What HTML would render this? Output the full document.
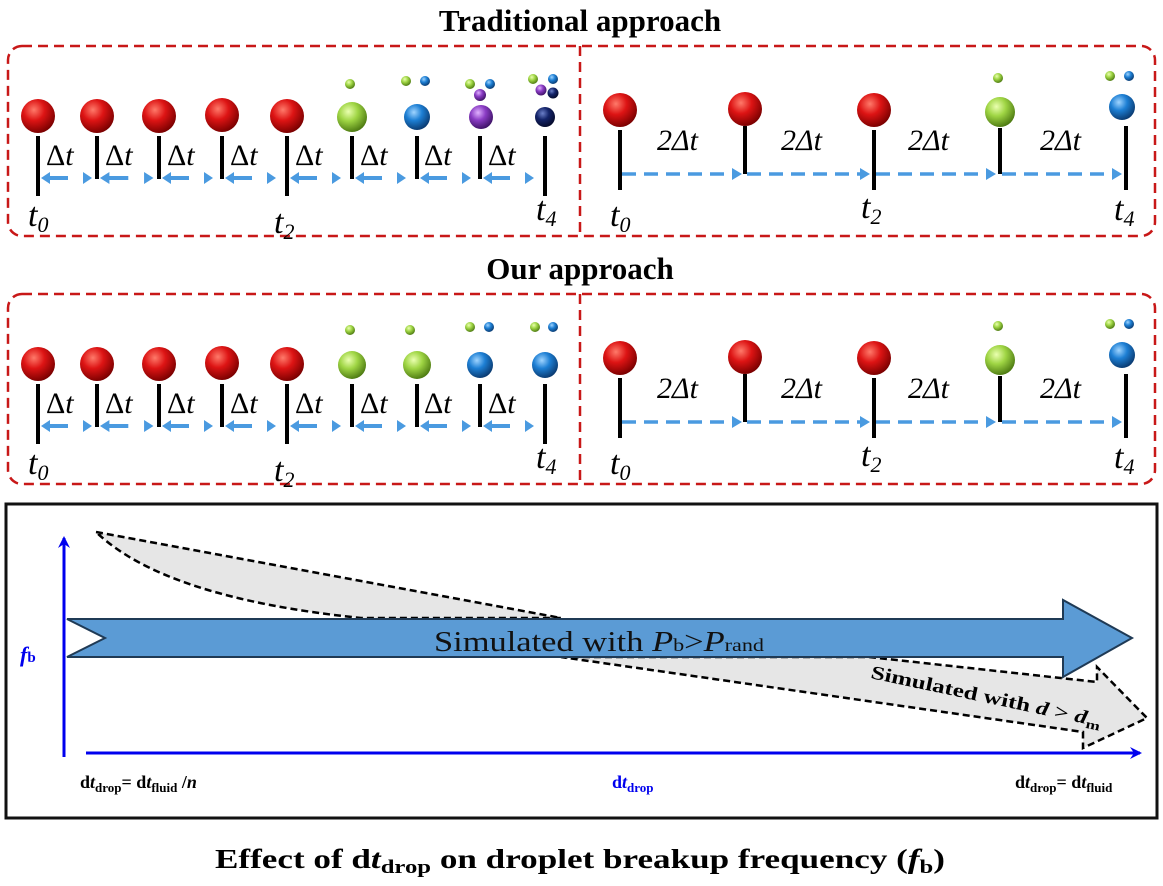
<!DOCTYPE html>
<html><head><meta charset="utf-8"><style>
html,body{margin:0;padding:0;background:#fff;}
svg{display:block;font-family:"Liberation Serif",serif;}
</style></head><body>
<svg width="1163" height="886" viewBox="0 0 1163 886" xmlns="http://www.w3.org/2000/svg">
<defs>
<radialGradient id="gr" cx="0.38" cy="0.32" r="0.7"><stop offset="0" stop-color="#ff7a6a"/><stop offset="0.45" stop-color="#dd1414"/><stop offset="1" stop-color="#7a0000"/></radialGradient>
<radialGradient id="gg" cx="0.38" cy="0.32" r="0.7"><stop offset="0" stop-color="#eaffb0"/><stop offset="0.45" stop-color="#9fd544"/><stop offset="1" stop-color="#4d7a12"/></radialGradient>
<radialGradient id="gb" cx="0.38" cy="0.32" r="0.7"><stop offset="0" stop-color="#9fd4ff"/><stop offset="0.45" stop-color="#1d7fd4"/><stop offset="1" stop-color="#0a3a70"/></radialGradient>
<radialGradient id="gp" cx="0.38" cy="0.32" r="0.7"><stop offset="0" stop-color="#e0b0ff"/><stop offset="0.45" stop-color="#8a3cc4"/><stop offset="1" stop-color="#3e1266"/></radialGradient>
<radialGradient id="gn" cx="0.38" cy="0.32" r="0.7"><stop offset="0" stop-color="#6b7fc8"/><stop offset="0.45" stop-color="#14246a"/><stop offset="1" stop-color="#050a2a"/></radialGradient>
<marker id="ahb" markerWidth="12" markerHeight="12" refX="10" refY="6" orient="auto" markerUnits="userSpaceOnUse"><path d="M0,0 L12,6 L0,12 L4,6 z" fill="#0000ee"/></marker>
<g id="dta">
<path d="M41,178 L50,172 L50,184 Z" fill="#4a9ae0"/>
<line x1="49" y1="178" x2="68" y2="178" stroke="#4a9ae0" stroke-width="4"/>
<path d="M83,172 L92,178 L83,184 Z" fill="#4a9ae0"/>
</g>
</defs>

<text x="580" y="31" text-anchor="middle" font-size="31" font-weight="bold">Traditional approach</text>
<text x="580" y="279" text-anchor="middle" font-size="31" font-weight="bold">Our approach</text>

<g fill="none" stroke="#c81818" stroke-width="2.5" stroke-dasharray="10,6">
<rect x="8" y="46" width="1147" height="190" rx="14"/>
<line x1="580" y1="46" x2="580" y2="236"/>
<rect x="8" y="294" width="1147" height="190" rx="14"/>
<line x1="580" y1="294" x2="580" y2="484"/>
</g>

<g id="tl">
<g stroke="#000" stroke-width="4">
<line x1="38" y1="136" x2="38" y2="196"/>
<line x1="97" y1="136" x2="97" y2="179"/>
<line x1="159" y1="136" x2="159" y2="179"/>
<line x1="222" y1="136" x2="222" y2="179"/>
<line x1="287" y1="136" x2="287" y2="196"/>
<line x1="352" y1="136" x2="352" y2="179"/>
<line x1="417" y1="136" x2="417" y2="179"/>
<line x1="480" y1="136" x2="480" y2="179"/>
<line x1="545" y1="136" x2="545" y2="196"/>
</g>
<use href="#dta"/>
<use href="#dta" transform="translate(59,0) scale(1.05,1) translate(-2,0)"/>
<use href="#dta" x="121"/>
<use href="#dta" x="184"/>
<use href="#dta" x="249"/>
<use href="#dta" x="314"/>
<use href="#dta" x="379"/>
<use href="#dta" x="442"/>
<g font-size="30"><text x="46" y="165">Δ<tspan font-style="italic">t</tspan></text><text x="105" y="165">Δ<tspan font-style="italic">t</tspan></text><text x="167" y="165">Δ<tspan font-style="italic">t</tspan></text><text x="230" y="165">Δ<tspan font-style="italic">t</tspan></text><text x="295" y="165">Δ<tspan font-style="italic">t</tspan></text><text x="360" y="165">Δ<tspan font-style="italic">t</tspan></text><text x="424" y="165">Δ<tspan font-style="italic">t</tspan></text><text x="488" y="165">Δ<tspan font-style="italic">t</tspan></text></g>
<g font-size="34" font-style="italic"><text x="28" y="226">t<tspan font-size="22" dy="6">0</tspan></text><text x="274" y="233">t<tspan font-size="22" dy="6">2</tspan></text><text x="536" y="220">t<tspan font-size="22" dy="6">4</tspan></text></g>
</g>
<g>
<circle cx="38" cy="116" r="17" fill="url(#gr)"/><circle cx="97" cy="116" r="17" fill="url(#gr)"/><circle cx="159" cy="116" r="17" fill="url(#gr)"/><circle cx="222" cy="115" r="17" fill="url(#gr)"/><circle cx="287" cy="116" r="17" fill="url(#gr)"/>
<circle cx="352" cy="117" r="15" fill="url(#gg)"/><circle cx="350" cy="84" r="5" fill="url(#gg)"/>
<circle cx="417" cy="117" r="13" fill="url(#gb)"/><circle cx="406" cy="81" r="5" fill="url(#gg)"/><circle cx="425" cy="81" r="5" fill="url(#gb)"/>
<circle cx="481" cy="117" r="12" fill="url(#gp)"/><circle cx="470" cy="84" r="5" fill="url(#gg)"/><circle cx="490" cy="84" r="5" fill="url(#gb)"/><circle cx="480" cy="95" r="6" fill="url(#gp)"/>
<circle cx="545" cy="117" r="10" fill="url(#gn)"/><circle cx="533" cy="79" r="5" fill="url(#gg)"/><circle cx="553" cy="79" r="5" fill="url(#gb)"/><circle cx="541" cy="90" r="5.5" fill="url(#gp)"/><circle cx="553" cy="93" r="5.5" fill="url(#gn)"/>
</g>

<use href="#tl" y="248"/>
<g>
<circle cx="38" cy="364" r="17" fill="url(#gr)"/><circle cx="97" cy="364" r="17" fill="url(#gr)"/><circle cx="159" cy="364" r="17" fill="url(#gr)"/><circle cx="222" cy="363" r="17" fill="url(#gr)"/><circle cx="287" cy="364" r="17" fill="url(#gr)"/>
<circle cx="352" cy="365" r="14" fill="url(#gg)"/><circle cx="350" cy="330" r="5" fill="url(#gg)"/>
<circle cx="417" cy="365" r="14" fill="url(#gg)"/><circle cx="410" cy="330" r="5" fill="url(#gg)"/>
<circle cx="480" cy="365" r="13" fill="url(#gb)"/><circle cx="470" cy="327" r="5" fill="url(#gg)"/><circle cx="489" cy="327" r="5" fill="url(#gb)"/>
<circle cx="545" cy="365" r="13" fill="url(#gb)"/><circle cx="535" cy="327" r="5" fill="url(#gg)"/><circle cx="553" cy="327" r="5" fill="url(#gb)"/>
</g>

<g id="tr">
<g stroke="#000" stroke-width="4">
<line x1="620" y1="130" x2="620" y2="190"/>
<line x1="745" y1="126" x2="745" y2="174"/>
<line x1="874" y1="130" x2="874" y2="190"/>
<line x1="1000" y1="128" x2="1000" y2="174"/>
<line x1="1126" y1="126" x2="1126" y2="190"/>
</g>
<g stroke="#4a9ae0" stroke-width="3.5" stroke-dasharray="14,8" fill="none">
<line x1="622" y1="174" x2="732" y2="174"/>
<line x1="747" y1="174" x2="860" y2="174"/>
<line x1="876" y1="174" x2="986" y2="174"/>
<line x1="1002" y1="174" x2="1112" y2="174"/>
</g>
<g fill="#4a9ae0"><path d="M732,168 L742,174 L732,180z"/><path d="M860,168 L870,174 L860,180z"/><path d="M986,168 L996,174 L986,180z"/><path d="M1112,168 L1122,174 L1112,180z"/></g>
<g font-size="30" font-style="italic"><text x="657" y="150">2Δt</text><text x="781" y="150">2Δt</text><text x="908" y="150">2Δt</text><text x="1040" y="150">2Δt</text></g>
<g font-size="34" font-style="italic"><text x="610" y="226">t<tspan font-size="22" dy="6">0</tspan></text><text x="861" y="218">t<tspan font-size="22" dy="6">2</tspan></text><text x="1114" y="220">t<tspan font-size="22" dy="6">4</tspan></text></g>
</g>
<g>
<circle cx="620" cy="110" r="17" fill="url(#gr)"/><circle cx="745" cy="109" r="17" fill="url(#gr)"/><circle cx="874" cy="110" r="17" fill="url(#gr)"/>
<circle cx="1000" cy="112" r="15" fill="url(#gg)"/><circle cx="998" cy="78" r="5" fill="url(#gg)"/>
<circle cx="1122" cy="107" r="13" fill="url(#gb)"/><circle cx="1110" cy="76" r="5" fill="url(#gg)"/><circle cx="1129" cy="76" r="5" fill="url(#gb)"/>
</g>
<use href="#tr" y="248"/>
<g>
<circle cx="620" cy="358" r="17" fill="url(#gr)"/><circle cx="745" cy="357" r="17" fill="url(#gr)"/><circle cx="874" cy="358" r="17" fill="url(#gr)"/>
<circle cx="1000" cy="360" r="15" fill="url(#gg)"/><circle cx="998" cy="326" r="5" fill="url(#gg)"/>
<circle cx="1122" cy="355" r="13" fill="url(#gb)"/><circle cx="1110" cy="324" r="5" fill="url(#gg)"/><circle cx="1129" cy="324" r="5" fill="url(#gb)"/>
</g>

<!-- BOTTOM CHART -->
<rect x="6" y="504" width="1151" height="314" fill="none" stroke="#111" stroke-width="3"/>
<line x1="64" y1="757" x2="64" y2="538" stroke="#0000ee" stroke-width="3" marker-end="url(#ahb)"/>
<line x1="86" y1="753" x2="1140" y2="753" stroke="#0000ee" stroke-width="3" marker-end="url(#ahb)"/>

<path d="M96,532 L561,618 L361,618 Q165,598 96,532 Z" fill="#e6e6e6" stroke="#000" stroke-width="2.5" stroke-dasharray="7,4"/>
<path d="M561,657 L869,657 L1097,682 L1097,667 L1147,718 L1083,748 L1083,732 Z" fill="#e6e6e6" stroke="#000" stroke-width="2.5" stroke-dasharray="7,4"/>

<path d="M67,619 L1063,619 L1063,600 L1132,638 L1063,677 L1063,657 L67,657 L105,638 Z" fill="#5b9bd5" stroke="#1f3a55" stroke-width="2"/>
<text x="434" y="651" font-size="28" textLength="330" lengthAdjust="spacingAndGlyphs" fill="#111">Simulated with <tspan font-style="italic">P</tspan><tspan font-size="18">b</tspan>&gt;<tspan font-style="italic">P</tspan><tspan font-size="18">rand</tspan></text>
<text x="0" y="0" font-size="19" font-weight="bold" transform="translate(870,678) rotate(12)" textLength="235" lengthAdjust="spacingAndGlyphs">Simulated with <tspan font-style="italic">d</tspan> &gt; <tspan font-style="italic">d</tspan><tspan font-size="13" dy="4">m</tspan></text>

<text x="20" y="662" font-size="22" font-weight="bold" fill="#0000ee"><tspan font-style="italic">f</tspan><tspan font-size="15">b</tspan></text>

<g font-weight="bold" font-size="18">
<text x="80" y="788">d<tspan font-style="italic">t</tspan><tspan font-size="13" dy="4">drop</tspan><tspan dy="-4">= d</tspan><tspan font-style="italic">t</tspan><tspan font-size="13" dy="4">fluid</tspan><tspan dy="-4"> /</tspan><tspan font-style="italic">n</tspan></text>
<text x="612" y="788" fill="#0000ee">d<tspan font-style="italic">t</tspan><tspan font-size="13" dy="4">drop</tspan></text>
<text x="1015" y="788">d<tspan font-style="italic">t</tspan><tspan font-size="13" dy="4">drop</tspan><tspan dy="-4">= d</tspan><tspan font-style="italic">t</tspan><tspan font-size="13" dy="4">fluid</tspan></text>
</g>

<text x="215" y="868" font-size="27" font-weight="bold" textLength="730" lengthAdjust="spacingAndGlyphs">Effect of  d<tspan font-style="italic">t</tspan><tspan font-size="19" dy="5">drop</tspan><tspan dy="-5"> on droplet breakup frequency (</tspan><tspan font-style="italic">f</tspan><tspan font-size="19" dy="5">b</tspan><tspan dy="-5">)</tspan></text>
</svg>
</body></html>
